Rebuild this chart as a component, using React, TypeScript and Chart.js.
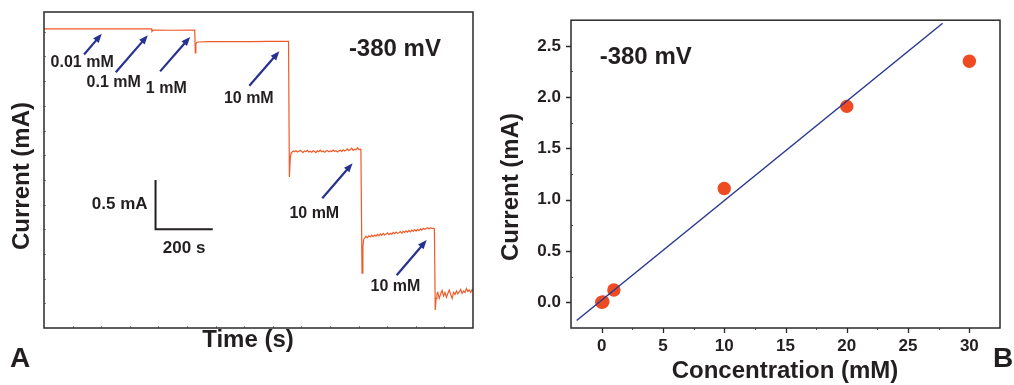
import React, { useEffect, useRef } from "react";
import { Chart, registerables } from "chart.js";

Chart.register(...registerables);

const FONT = '"Liberation Sans", Arial, Helvetica, sans-serif';
const INK = "#231f20";
const FRAME = "#2a2a2a";
const TRACE = "#f05a28";
const ARROW = "#27318f";
const DOT = "#ef4b23";
const FIT = "#2b3990";

// ---------- Panel A: amperometric response, time (s) vs current (mA) ----------
const baselineTimes = [0, 80, 160, 240, 320, 376, 377.5, 380, 385, 450, 527];
const baselineCurrents = [0.03, 0.029, 0.03, 0.029, 0.03, 0.03, 0.004, 0.012, 0.016, 0.015, 0.016];

const oneMmTimes = [529, 531, 534, 540, 580, 630, 680, 730, 780, 830, 853];
const oneMmCurrents = [-0.214, -0.125, -0.108, -0.104, -0.101, -0.1, -0.099, -0.1, -0.098, -0.097, -0.097];

const drop1Times = [855, 858, 861, 864];
const drop1Currents = [-0.097, -1.47, -1.28, -1.23];

// noisy plateaus are sampled every 5 s
const plateauStep = 5;
const plateau1Start = 866;
const plateau1Currents = [
  -1.222, -1.208, -1.216, -1.204, -1.219, -1.211, -1.201, -1.214, -1.222, -1.207,
  -1.213, -1.2, -1.217, -1.209, -1.219, -1.205, -1.212, -1.224, -1.206, -1.214,
  -1.199, -1.215, -1.208, -1.221, -1.211, -1.203, -1.216, -1.207, -1.213, -1.198,
  -1.21, -1.204, -1.217, -1.206, -1.2, -1.212, -1.195, -1.208, -1.199, -1.185,
  -1.203, -1.192, -1.178, -1.201, -1.189, -1.196, -1.175, -1.193, -1.188,
];

const drop2Times = [1108, 1112, 1115, 1118];
const drop2Currents = [-1.19, -2.445, -2.18, -2.1];

const plateau2Start = 1121;
const plateau2Currents = [
  -2.092, -2.071, -2.085, -2.066, -2.078, -2.06, -2.075, -2.058, -2.07, -2.052,
  -2.066, -2.047, -2.061, -2.043, -2.058, -2.049, -2.036, -2.054, -2.04, -2.05,
  -2.032, -2.045, -2.028, -2.042, -2.035, -2.024, -2.039, -2.021, -2.033, -2.017,
  -2.03, -2.012, -2.027, -2.009, -2.021, -2.004, -2.018, -2.0, -2.013, -1.995,
  -2.008, -1.99, -2.001, -1.992, -1.985, -1.997, -1.986, -1.991,
];

const drop3Times = [1361, 1365, 1368, 1371, 1374];
const drop3Currents = [-1.99, -1.995, -2.817, -2.7, -2.655];

const plateau3Start = 1377;
const plateau3Currents = [
  -2.64, -2.7, -2.655, -2.62, -2.675, -2.64, -2.69, -2.65, -2.615, -2.66,
  -2.7, -2.64, -2.66, -2.625, -2.655, -2.635, -2.61, -2.65, -2.625, -2.64,
  -2.6, -2.63, -2.615, -2.64, -2.61,
];
const endTimes = [1500];
const endCurrents = [-2.63];

const timeTickValues = [100, 200, 300, 400, 500, 600, 700, 800, 900, 1000, 1100, 1200, 1300, 1400];
const traceCurrentTickValues = [-2.75, -2.5, -2.25, -2, -1.75, -1.5, -1.25, -1, -0.75, -0.5, -0.25, 0];

// ---------- Panel B: calibration, concentration (mM) vs current (mA) ----------
const concentrations = [0.01, 0.1, 1, 10, 20, 30];
const responseCurrents = [0.0, 0.005, 0.12, 1.11, 1.91, 2.35];
const fitConcentrations = [-2.04, 27.82];
const fitCurrents = [-0.177, 2.72];

const concMajorTicks = [0, 5, 10, 15, 20, 25, 30];
const concMinorTicks = [2.5, 7.5, 12.5, 17.5, 22.5, 27.5];
const currentMajorTicks = [0, 0.5, 1, 1.5, 2, 2.5];
const currentMinorTicks = [0.25, 0.75, 1.25, 1.75, 2.25];

type Pt = { x: number; y: number };
const zip = (xs: number[], ys: number[]): Pt[] => xs.map((x, i) => ({ x, y: ys[i] }));
const sampled = (start: number, ys: number[]): Pt[] =>
  ys.map((y, i) => ({ x: start + i * plateauStep, y }));

const tracePoints: Pt[] = [
  ...zip(baselineTimes, baselineCurrents),
  ...zip(oneMmTimes, oneMmCurrents),
  ...zip(drop1Times, drop1Currents),
  ...sampled(plateau1Start, plateau1Currents),
  ...zip(drop2Times, drop2Currents),
  ...sampled(plateau2Start, plateau2Currents),
  ...zip(drop3Times, drop3Currents),
  ...sampled(plateau3Start, plateau3Currents),
  ...zip(endTimes, endCurrents),
];

// analyte additions: arrow tail/head and label anchor, in (s, mA)
const additions = [
  { label: "0.01 mM", tail: [140, -0.231], head: [202, -0.021], at: [23, -0.316] },
  { label: "0.1 mM", tail: [251, -0.411], head: [363, -0.036], at: [149, -0.519] },
  { label: "1 mM", tail: [406, -0.401], head: [511, -0.052], at: [356, -0.58] },
  { label: "10 mM", tail: [718, -0.546], head: [823, -0.198], at: [629, -0.681] },
  { label: "10 mM", tail: [973, -1.686], head: [1079, -1.331], at: [858, -1.839] },
  { label: "10 mM", tail: [1233, -2.465], head: [1338, -2.11], at: [1142, -2.584] },
];

type TickSet = { axis: "x" | "y"; values: number[]; length: number; color: string; width: number };
type TextSpec = {
  text: string;
  x: number;
  y: number;
  size: number;
  align?: CanvasTextAlign;
  baseline?: CanvasTextBaseline;
  rotate?: boolean;
};

const font = (size: number) => `bold ${size}px ${FONT}`;

function drawText(ctx: CanvasRenderingContext2D, t: TextSpec, x: number, y: number) {
  ctx.save();
  ctx.font = font(t.size);
  ctx.fillStyle = INK;
  ctx.textAlign = t.align || "left";
  ctx.textBaseline = t.baseline || "middle";
  if (t.rotate) {
    ctx.translate(x, y);
    ctx.rotate(-Math.PI / 2);
    ctx.fillText(t.text, 0, 0);
  } else {
    ctx.fillText(t.text, x, y);
  }
  ctx.restore();
}

const panelDecor = {
  id: "panelDecor",
  afterDatasetsDraw(chart: any, _args: any, opts: any) {
    const ctx: CanvasRenderingContext2D = chart.ctx;
    const xs = chart.scales.x;
    const ys = chart.scales.y;
    const px = (v: number) => xs.getPixelForValue(v);
    const py = (v: number) => ys.getPixelForValue(v);

    (opts.arrows || []).forEach((a: any) => {
      const x0 = px(a.tail[0]);
      const y0 = py(a.tail[1]);
      const x1 = px(a.head[0]);
      const y1 = py(a.head[1]);
      const ang = Math.atan2(y1 - y0, x1 - x0);
      const headLen = 9;
      const headHalf = 3.6;
      const bx = x1 - Math.cos(ang) * headLen;
      const by = y1 - Math.sin(ang) * headLen;
      ctx.save();
      ctx.strokeStyle = ARROW;
      ctx.fillStyle = ARROW;
      ctx.lineWidth = 2.2;
      ctx.lineCap = "butt";
      ctx.beginPath();
      ctx.moveTo(x0, y0);
      ctx.lineTo(bx + Math.cos(ang) * 2, by + Math.sin(ang) * 2);
      ctx.stroke();
      ctx.beginPath();
      ctx.moveTo(x1, y1);
      ctx.lineTo(bx - Math.sin(ang) * headHalf, by + Math.cos(ang) * headHalf);
      ctx.lineTo(bx + Math.sin(ang) * headHalf, by - Math.cos(ang) * headHalf);
      ctx.closePath();
      ctx.fill();
      ctx.restore();
    });

    const bar = opts.scaleBar;
    if (bar) {
      const bx = px(bar.x);
      const by = py(bar.y);
      const bxe = px(bar.x + bar.dx);
      const bye = py(bar.y + bar.dy);
      ctx.save();
      ctx.strokeStyle = INK;
      ctx.lineWidth = 2;
      ctx.beginPath();
      ctx.moveTo(bx, bye);
      ctx.lineTo(bx, by);
      ctx.lineTo(bxe, by);
      ctx.stroke();
      ctx.restore();
      drawText(ctx, { text: bar.yLabel, x: 0, y: 0, size: 17, align: "right" }, bx - 8, (by + bye) / 2);
      drawText(ctx, { text: bar.xLabel, x: 0, y: 0, size: 17, align: "center" }, (bx + bxe) / 2, by + 19);
    }

    (opts.dataTexts || []).forEach((t: TextSpec) => drawText(ctx, t, px(t.x), py(t.y)));
  },
  afterDraw(chart: any, _args: any, opts: any) {
    const ctx: CanvasRenderingContext2D = chart.ctx;
    const area = chart.chartArea;
    const xs = chart.scales.x;
    const ys = chart.scales.y;

    (opts.tickSets || []).forEach((s: TickSet) => {
      ctx.save();
      ctx.strokeStyle = s.color;
      ctx.lineWidth = s.width;
      ctx.beginPath();
      s.values.forEach((v) => {
        if (s.axis === "x") {
          const x = Math.round(xs.getPixelForValue(v)) + 0.5;
          ctx.moveTo(x, area.bottom);
          ctx.lineTo(x, area.bottom + s.length);
        } else {
          const y = Math.round(ys.getPixelForValue(v)) + 0.5;
          ctx.moveTo(area.left, y);
          ctx.lineTo(area.left - s.length, y);
        }
      });
      ctx.stroke();
      ctx.restore();
    });

    ctx.save();
    ctx.strokeStyle = FRAME;
    ctx.lineWidth = 1.5;
    ctx.strokeRect(area.left, area.top, area.right - area.left, area.bottom - area.top);
    ctx.restore();

    (opts.pixelTexts || []).forEach((t: TextSpec) => drawText(ctx, t, t.x, t.y));
  },
};

function traceConfig(): any {
  return {
    type: "scatter",
    data: {
      datasets: [
        {
          data: tracePoints,
          showLine: true,
          borderColor: TRACE,
          borderWidth: 1.2,
          pointRadius: 0,
          tension: 0,
          fill: false,
        },
      ],
    },
    options: {
      animation: false,
      responsive: false,
      layout: { padding: { top: 12, right: 27, bottom: 0, left: 0 } },
      plugins: {
        legend: { display: false },
        tooltip: { enabled: false },
        panelDecor: {
          arrows: additions.map((a) => ({ tail: a.tail, head: a.head })),
          dataTexts: [
            ...additions.map((a) => ({ text: a.label, x: a.at[0], y: a.at[1], size: 16 })),
            { text: "-380 mV", x: 1066, y: -0.181, size: 24 },
          ],
          scaleBar: { x: 390, y: -2.0, dx: 200, dy: 0.5, xLabel: "200 s", yLabel: "0.5 mA" },
          tickSets: [
            { axis: "x", values: timeTickValues, length: -2, color: "#8a8a8a", width: 1 },
            { axis: "y", values: traceCurrentTickValues, length: -2, color: "#8a8a8a", width: 1 },
          ],
          pixelTexts: [
            { text: "Current (mA)", x: 22.5, y: 176, size: 24, align: "center", rotate: true },
            { text: "Time (s)", x: 248, y: 340.5, size: 24, align: "center" },
            { text: "A", x: 10, y: 366.5, size: 28, baseline: "alphabetic" },
          ],
        },
      },
      scales: {
        x: {
          type: "linear",
          min: 0,
          max: 1500,
          grid: { display: false, drawTicks: false },
          border: { display: false },
          ticks: { display: false },
          afterFit: (s: any) => {
            s.height = 57;
          },
        },
        y: {
          type: "linear",
          min: -3,
          max: 0.2,
          grid: { display: false, drawTicks: false },
          border: { display: false },
          ticks: { display: false },
          afterFit: (s: any) => {
            s.width = 44;
          },
        },
      },
    },
    plugins: [panelDecor],
  };
}

function calibrationConfig(): any {
  const tickFont = { family: FONT, size: 17, weight: "bold" };
  return {
    type: "scatter",
    data: {
      datasets: [
        {
          data: zip(fitConcentrations, fitCurrents),
          showLine: true,
          borderColor: FIT,
          borderWidth: 1.5,
          pointRadius: 0,
          tension: 0,
          order: 1,
        },
        {
          data: zip(concentrations, responseCurrents),
          pointRadius: 6.7,
          pointBackgroundColor: DOT,
          pointBorderWidth: 0,
          backgroundColor: DOT,
          borderColor: DOT,
          order: 2,
        },
      ],
    },
    options: {
      animation: false,
      responsive: false,
      layout: { padding: { top: 12, right: 14, bottom: 0, left: 0 } },
      plugins: {
        legend: { display: false },
        tooltip: { enabled: false },
        panelDecor: {
          dataTexts: [{ text: "-380 mV", x: -0.16, y: 2.39, size: 24 }],
          tickSets: [
            { axis: "x", values: concMajorTicks, length: 5, color: FRAME, width: 1.3 },
            { axis: "x", values: concMinorTicks, length: 2, color: "#555", width: 1 },
            { axis: "y", values: currentMajorTicks, length: 5, color: FRAME, width: 1.3 },
            { axis: "y", values: currentMinorTicks, length: -2, color: "#555", width: 1 },
          ],
          pixelTexts: [
            { text: "Current (mA)", x: 11.5, y: 187, size: 24, align: "center", rotate: true },
            { text: "Concentration (mM)", x: 285, y: 371.3, size: 24, align: "center" },
            { text: "B", x: 493, y: 366.5, size: 28, baseline: "alphabetic" },
          ],
        },
      },
      scales: {
        x: {
          type: "linear",
          min: -2.5,
          max: 32.5,
          grid: { display: false, drawTicks: false },
          border: { display: false },
          afterBuildTicks: (s: any) => {
            s.ticks = [...concMajorTicks, ...concMinorTicks].sort((a, b) => a - b).map((v) => ({ value: v }));
          },
          ticks: {
            autoSkip: false,
            maxRotation: 0,
            padding: 8,
            color: INK,
            font: tickFont,
            callback: (v: number) => (concMajorTicks.includes(v) ? String(v) : ""),
          },
          afterFit: (s: any) => {
            s.height = 57;
          },
        },
        y: {
          type: "linear",
          min: -0.25,
          max: 2.75,
          grid: { display: false, drawTicks: false },
          border: { display: false },
          afterBuildTicks: (s: any) => {
            s.ticks = [...currentMajorTicks, ...currentMinorTicks].sort((a, b) => a - b).map((v) => ({ value: v }));
          },
          ticks: {
            autoSkip: false,
            padding: 10,
            color: INK,
            font: tickFont,
            callback: (v: number) => (currentMajorTicks.includes(v) ? v.toFixed(1) : ""),
          },
          afterFit: (s: any) => {
            s.width = 71;
          },
        },
      },
    },
    plugins: [panelDecor],
  };
}

function ChartCanvas({ config, left, width }: { config: () => any; left: number; width: number }) {
  const ref = useRef<HTMLCanvasElement | null>(null);
  useEffect(() => {
    if (!ref.current) return;
    const chart = new Chart(ref.current, config());
    return () => chart.destroy();
  }, [config]);
  return (
    <canvas
      ref={ref}
      width={width}
      height={385}
      style={{ position: "absolute", left, top: 0, width, height: 385, display: "block" }}
    />
  );
}

export default function App() {
  return (
    <div style={{ position: "absolute", left: 0, top: 0, width: 1014, height: 385, background: "#fff" }}>
      <ChartCanvas config={traceConfig} left={0} width={500} />
      <ChartCanvas config={calibrationConfig} left={500} width={514} />
    </div>
  );
}
